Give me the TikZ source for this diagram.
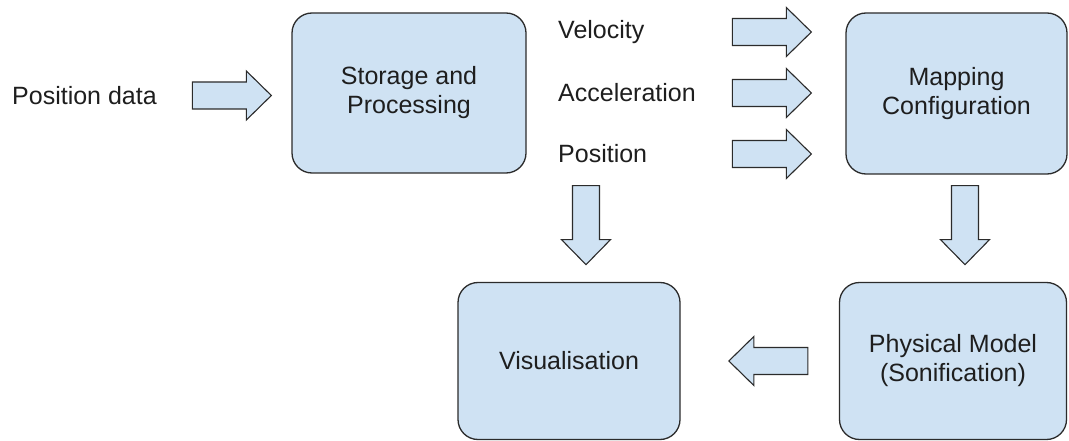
\documentclass[tikz,border=0pt]{standalone}
\usepackage{fontspec}
\setmainfont{Liberation Sans}
\definecolor{boxfill}{HTML}{CFE2F3}
\definecolor{boxline}{HTML}{2B2B2B}
\definecolor{txt}{HTML}{1E1E1E}
\tikzset{
  procbox/.style={draw=boxline, fill=boxfill, line width=1.3pt, rounded corners=20pt,
    align=center, text=txt, font=\fontsize{25}{29}\selectfont, inner sep=0pt},
  lbl/.style={anchor=west, text=txt, font=\fontsize{25}{29}\selectfont, inner sep=0pt},
  blockarrow/.pic={
    \draw[draw=boxline, fill=boxfill, line width=1.1pt, line join=miter]
      (0,-13.5) -- (54,-13.5) -- (54,-24.5) -- (79,0) -- (54,24.5) -- (54,13.5) -- (0,13.5) -- cycle;
  }
}
\begin{document}
\begin{tikzpicture}[x=1pt, y=-1pt]
\useasboundingbox (0,0) rectangle (1069,441);
% boxes
\node[procbox, minimum width=234pt, minimum height=160pt] (store) at (409,93) {Storage and\\Processing};
\node[procbox, minimum width=221pt, minimum height=161pt] (map) at (956.5,93.5) {Mapping\\Configuration};
\node[procbox, minimum width=222pt, minimum height=157pt] (vis) at (569,361) {Visualisation};
\node[procbox, minimum width=227pt, minimum height=157pt] (phys) at (953,361) {Physical Model\\(Sonification)};
% labels
\node[lbl] (pd) at (12,95.5) {Position data};
\node[lbl] (vel) at (558,32) {Velocity};
\node[lbl] (acc) at (558,93) {Acceleration};
\node[lbl] (pos) at (558,154) {Position};
% block arrows, placed from the named nodes
\pic at ([xshift=-99pt]store.west |- pd.west) {blockarrow};
\pic at ([xshift=-113pt]map.west |- vel.west) {blockarrow};
\pic at ([xshift=-113pt]map.west |- acc.west) {blockarrow};
\pic at ([xshift=-113pt]map.west |- pos.west) {blockarrow};
\pic[rotate=-90] at ([yshift=-12pt]store.south -| 586,0) {blockarrow};
\pic[rotate=-90] at ([yshift=-11pt]map.south -| 965,0) {blockarrow};
\pic[rotate=180] at ([xshift=-31pt]phys.west) {blockarrow};
\end{tikzpicture}
\end{document}
